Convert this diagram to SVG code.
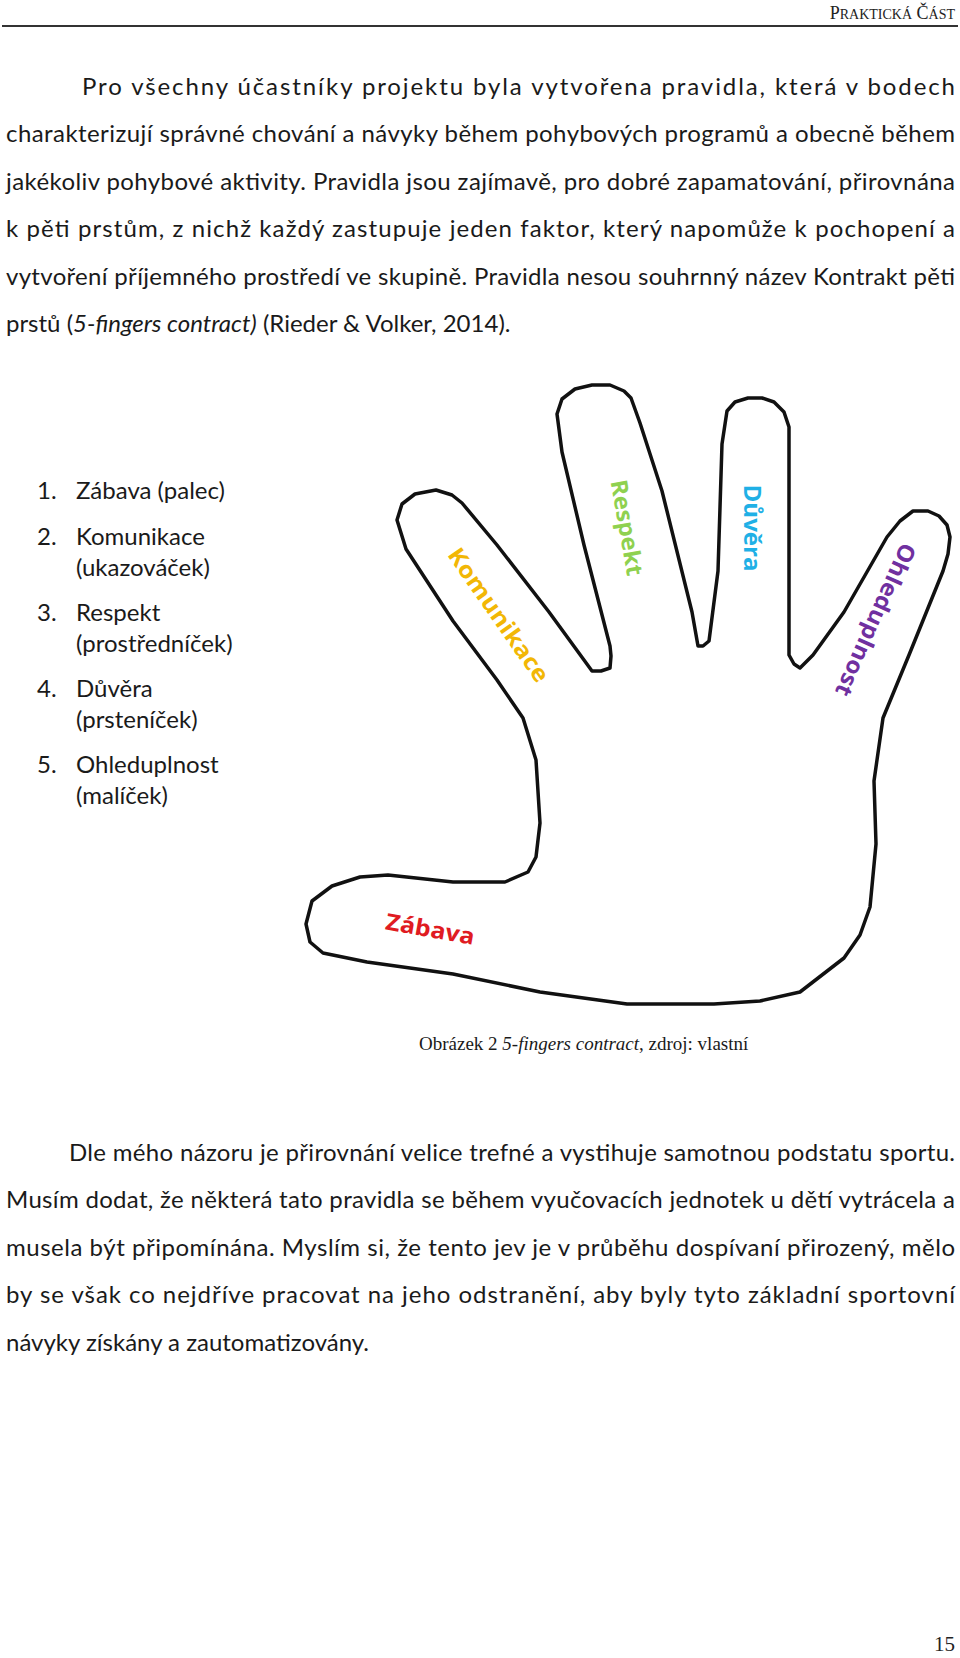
<svg xmlns="http://www.w3.org/2000/svg" width="960" height="1658" viewBox="0 0 960 1658">
<style>
.b{font-family:Lato,"Liberation Sans",sans-serif;font-size:24px;fill:#1a1a1a}
.l{font-family:"Open Sans","Liberation Sans",sans-serif;font-weight:bold;font-size:23px}
.cap{font-family:"Liberation Serif",serif;font-size:19px;fill:#1a1a1a}
</style>
<rect width="960" height="1658" fill="#fff"/>
<g id="header">
<text x="955" y="19" text-anchor="end" font-family="Liberation Serif,serif" font-size="18" fill="#222">P<tspan font-size="14">RAKTICKÁ</tspan> Č<tspan font-size="14">ÁST</tspan></text>
<line x1="2" y1="26" x2="958" y2="26" stroke="#333" stroke-width="2"/>
</g>
<g id="para1" class="b">
<text x="82" y="95" textLength="873" lengthAdjust="spacing">Pro všechny účastníky projektu byla vytvořena pravidla, která v bodech</text>
<text x="6" y="142" textLength="949" lengthAdjust="spacing">charakterizují správné chování a návyky během pohybových programů a obecně během</text>
<text x="6" y="190" textLength="949" lengthAdjust="spacing">jakékoliv pohybové aktivity. Pravidla jsou zajímavě, pro dobré zapamatování, přirovnána</text>
<text x="6" y="237" textLength="949" lengthAdjust="spacing">k pěti prstům, z nichž každý zastupuje jeden faktor, který napomůže k pochopení a</text>
<text x="6" y="285" textLength="949" lengthAdjust="spacing">vytvoření příjemného prostředí ve skupině. Pravidla nesou souhrnný název Kontrakt pěti</text>
<text x="6" y="332">prstů (<tspan font-style="italic">5-fingers contract)</tspan> (Rieder &amp; Volker, 2014).</text>
</g>
<g id="list" class="b">
<text x="37" y="499">1.</text><text x="76" y="499">Zábava (palec)</text>
<text x="37" y="545">2.</text><text x="76" y="545">Komunikace</text><text x="76" y="576">(ukazováček)</text>
<text x="37" y="621">3.</text><text x="76" y="621">Respekt</text><text x="76" y="652">(prostředníček)</text>
<text x="37" y="697">4.</text><text x="76" y="697">Důvěra</text><text x="76" y="728">(prsteníček)</text>
<text x="37" y="773">5.</text><text x="76" y="773">Ohleduplnost</text><text x="76" y="804">(malíček)</text>
</g>
<g id="hand">
<path fill="none" stroke="#111" stroke-width="3.5" stroke-linejoin="round" d="M306,924 L312,901 L332,886 L360,877 L388,875 L453,882 L505,882 L528,872 L536,857 L540,823 L536,760 L523,718 L497,680 L453,621 L406,549 L397,520 L402,504 L415,494 L436,490 L452,495 L462,503 L497,545 L549,612 L592,671 L601,671 L610,668 L611,656 L610,646 L584,545 L562,452 L557,414 L562,399 L575,389 L592,385 L610,385 L624,391 L631,398 L640,423 L662,491 L692,612 L698,646 L703,646 L709,641 L718,571 L722,444 L727,411 L735,402 L748,398 L762,398 L774,402 L784,412 L789,427 L789,529 L789,655 L794,664 L800,668 L813,655 L844,612 L887,537 L900,521 L913,511 L928,511 L939,516 L947,525 L950,537 L948,554 L943,571 L909,655 L883,718 L874,781 L876,844 L870,907 L860,935 L844,958 L800,992 L760,1001 L714,1004 L627,1004 L540,992 L453,974 L367,962 L323,953 L310,942 Z"/>
</g>
<g id="labels" class="l">
<text transform="translate(497,616) rotate(55)" text-anchor="middle" dominant-baseline="middle" fill="#f2b705" textLength="158" lengthAdjust="spacingAndGlyphs">Komunikace</text>
<text transform="translate(625,528) rotate(80)" text-anchor="middle" dominant-baseline="middle" fill="#8fd14f" textLength="97" lengthAdjust="spacingAndGlyphs">Respekt</text>
<text transform="translate(750,528) rotate(90)" text-anchor="middle" dominant-baseline="middle" fill="#1fb0e6" textLength="87" lengthAdjust="spacingAndGlyphs">Důvěra</text>
<text transform="translate(874,619) rotate(114)" text-anchor="middle" dominant-baseline="middle" fill="#7030a0" textLength="165" lengthAdjust="spacingAndGlyphs">Ohleduplnost</text>
<text transform="translate(430,931) rotate(10)" text-anchor="middle" dominant-baseline="middle" fill="#e01b22" textLength="90" lengthAdjust="spacingAndGlyphs">Zábava</text>
</g>
<g id="caption">
<text x="419" y="1050" class="cap">Obrázek 2 <tspan font-style="italic">5-fingers contract</tspan>, zdroj: vlastní</text>
</g>
<g id="para2" class="b">
<text x="69" y="1161" textLength="886" lengthAdjust="spacing">Dle mého názoru je přirovnání velice trefné a vystihuje samotnou podstatu sportu.</text>
<text x="6" y="1208" textLength="949" lengthAdjust="spacing">Musím dodat, že některá tato pravidla se během vyučovacích jednotek u dětí vytrácela a</text>
<text x="6" y="1256" textLength="949" lengthAdjust="spacing">musela být připomínána. Myslím si, že tento jev je v průběhu dospívaní přirozený, mělo</text>
<text x="6" y="1303" textLength="949" lengthAdjust="spacing">by se však co nejdříve pracovat na jeho odstranění, aby byly tyto základní sportovní</text>
<text x="6" y="1351">návyky získány a zautomatizovány.</text>
</g>
<text x="955" y="1651" text-anchor="end" font-family="Liberation Serif,serif" font-size="21" fill="#222">15</text>
</svg>
